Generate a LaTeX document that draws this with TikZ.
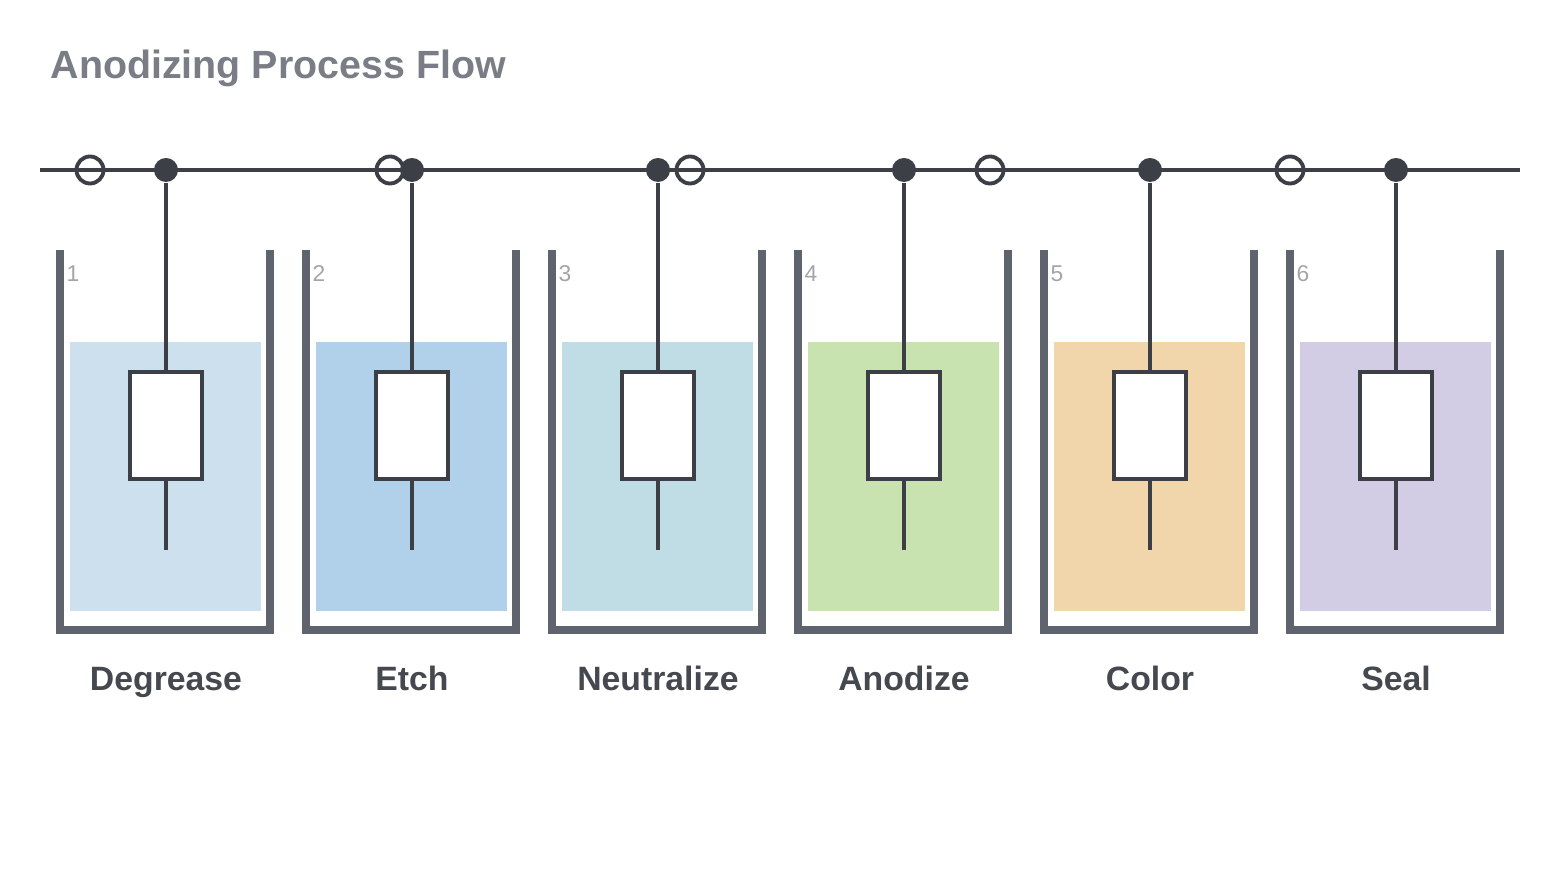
\documentclass[tikz,border=0pt]{standalone}
\usepackage{fontspec}
\setmainfont{Liberation Sans}
\definecolor{railc}{HTML}{3C3F45}
\definecolor{wallc}{HTML}{5F636D}
\definecolor{titlec}{HTML}{7A7D85}
\definecolor{labelc}{HTML}{45484F}
\definecolor{numc}{HTML}{A3A5AA}
\definecolor{liqA}{HTML}{CCE0EE}
\definecolor{liqB}{HTML}{B1D1EA}
\definecolor{liqC}{HTML}{C0DDE5}
\definecolor{liqD}{HTML}{C8E2B0}
\definecolor{liqE}{HTML}{F1D6AB}
\definecolor{liqF}{HTML}{D2CDE5}
\tikzset{
  rail/.style={draw=railc,line width=1.3pt},
  hook/.style={circle,draw=railc,line width=1.1pt,minimum size=0.27cm,inner sep=0pt},
  carrier/.style={circle,fill=railc,minimum size=0.24cm,inner sep=0pt},
  part/.style={rectangle,draw=railc,fill=white,line width=1.2pt,minimum width=0.72cm,minimum height=1.07cm,inner sep=0pt},
  hanger/.style={draw=railc,line width=1.3pt},
  wall/.style={draw=wallc,line width=2pt,line join=miter},
  num/.style={anchor=base west,inner sep=0pt,text=numc,font=\fontsize{6.5}{8}\selectfont},
  tanklabel/.style={anchor=base,inner sep=0pt,text=labelc,font=\bfseries\fontsize{9.6}{11}\selectfont}
}
\begin{document}
\begin{tikzpicture}[x=0.01cm,y=-0.01cm]
\useasboundingbox (0,0) rectangle (1560,880);
% Title
\node[anchor=base west,inner sep=0pt,text=titlec,font=\bfseries\fontsize{11.2}{13}\selectfont] (title) at (50,79) {Anodizing Process Flow};

% Rail
\coordinate (railL) at (40,170);
\coordinate (railR) at (1520,170);
\draw[rail] (railL) -- (railR);

% Empty hooks on the rail
\foreach \x [count=\i] in {90,390,690,990,1290}
  \node[hook] (hook\i) at (\x,170) {};

% Tanks with carriers and parts
\foreach \n/\lab/\col [count=\i from 0] in {1/Degrease/liqA,2/Etch/liqB,3/Neutralize/liqC,4/Anodize/liqD,5/Color/liqE,6/Seal/liqF} {
  \pgfmathsetmacro{\tx}{60+246*\i}
  \fill[\col] (\tx+10,342) rectangle (\tx+201,611);
  \draw[wall] (\tx,250) -- (\tx,630) -- (\tx+210,630) -- (\tx+210,250);
  \node[num] (num\n) at (\tx+6,282) {\n};
  \node[carrier] (dot\n) at (\tx+106,170) {};
  \node[part] (part\n) at (\tx+106,425.5) {};
  \coordinate (tip\n) at (\tx+106,550);
  \draw[hanger] (dot\n) -- (part\n);
  \draw[hanger] (part\n) -- (tip\n);
  \node[tanklabel] (lab\n) at (\tx+106,691) {\lab};
}
\end{tikzpicture}
\end{document}
